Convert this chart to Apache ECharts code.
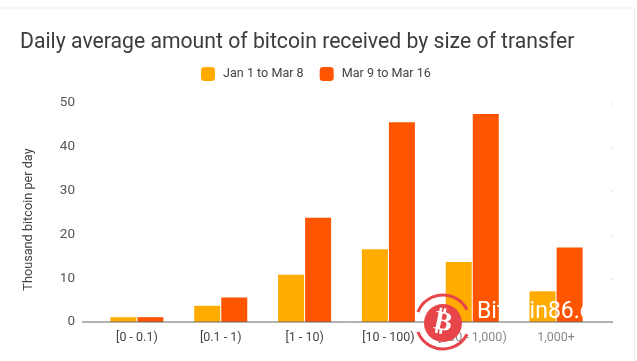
<!DOCTYPE html>
<html><head><meta charset="utf-8">
<style>html,body{margin:0;padding:0;background:#fff}#c{width:637px;height:361px}</style>
<script src="https://cdn.jsdelivr.net/npm/echarts@6/dist/echarts.min.js"></script>
</head><body><div id="c"></div>
<script>
const categories=['[0 - 0.1)','[0.1 - 1)','[1 - 10)','[10 - 100)','[100 - 1,000)','1,000+'];
const janToMar8=[1.1,3.7,10.8,16.6,13.7,7];
const mar9ToMar16=[1.1,5.6,23.8,45.6,47.5,17];
const yTicks=[0,10,20,30,40,50];
const FONT='Roboto, sans-serif';
const chart=echarts.init(document.getElementById('c'),null,{renderer:'canvas'});
chart.setOption({
  animation:false,
  backgroundColor:'#fff',
  title:{text:'Daily average amount of bitcoin received by size of transfer',left:15,top:27,
    textStyle:{fontFamily:FONT,fontSize:21.2,fontWeight:'normal',color:'#3c3c3c'}},
  legend:{top:62,left:196,itemWidth:14,itemHeight:14,itemGap:16,
    textStyle:{fontFamily:FONT,fontSize:12.6,color:'#444',padding:[0,0,0,3]},
    icon:'roundRect',
    data:['Jan 1 to Mar 8','Mar 9 to Mar 16']},
  grid:{left:95,right:39,top:103,height:219,containLabel:false},
  xAxis:{type:'category',data:categories,
    axisLine:{show:false},axisTick:{show:false},
    axisLabel:{fontFamily:FONT,fontSize:12.5,margin:9,interval:0,
      color:(v,i)=>i>=4?'#8a8a8a':'#444'}},
  yAxis:{type:'value',min:0,max:50,interval:10,
    name:'Thousand bitcoin per day',nameLocation:'middle',nameGap:60,
    nameTextStyle:{fontFamily:FONT,fontSize:12.7,color:'#444',padding:[0,14,0,0]},
    axisLine:{show:false},axisTick:{show:false},splitLine:{show:false},
    axisLabel:{fontFamily:FONT,fontSize:13.5,color:'#555',margin:20,padding:[2,0,0,0],
      formatter:v=>yTicks.includes(v)?String(v):''}},
  series:[
    {name:'Jan 1 to Mar 8',type:'bar',data:janToMar8,barWidth:26,barGap:'4%',
     itemStyle:{color:'#ffab00'}},
    {name:'Mar 9 to Mar 16',type:'bar',data:mar9ToMar16,barWidth:26,barGap:'4%',
     itemStyle:{color:'#ff5500'}}
  ],
  graphic:[
    {type:'line',z:5,shape:{x1:82,y1:322,x2:613,y2:322},style:{stroke:'#666',lineWidth:1}},
    {type:'line',z:0,shape:{x1:0,y1:8,x2:635,y2:8},style:{stroke:'#eee',lineWidth:1}},
    {type:'line',z:0,shape:{x1:635,y1:8,x2:635,y2:361},style:{stroke:'#eee',lineWidth:1}},
    {type:'circle',z:10,shape:{cx:443,cy:323,r:19},style:{fill:'#e8454a'}},
    {type:'arc',z:10,shape:{cx:443,cy:322,r:27,startAngle:Math.PI*1.12,endAngle:Math.PI*1.85},style:{stroke:'#e8454a',fill:'none',lineWidth:3}},
    {type:'arc',z:10,shape:{cx:443,cy:322,r:27,startAngle:Math.PI*0.15,endAngle:Math.PI*0.88},style:{stroke:'#e8454a',fill:'none',lineWidth:3}},
    {type:'text',z:11,x:443,y:323,rotation:-0.2,style:{text:'\u20BF',align:'center',verticalAlign:'middle',fontFamily:'"DejaVu Sans"',fontWeight:'bold',fontSize:27,fill:'#fff'}},
    {type:'text',z:11,left:477,top:301,style:{text:'Bitcoin86.c',fontFamily:FONT,fontSize:23,fill:'#fff'}}
  ].concat(yTicks.map(t=>({type:'line',z:1,shape:{x1:612,y1:322-t*4.38,x2:612,y2:322-t*4.38+2},style:{stroke:'#ddd',lineWidth:1}})))
});
</script></body></html>
